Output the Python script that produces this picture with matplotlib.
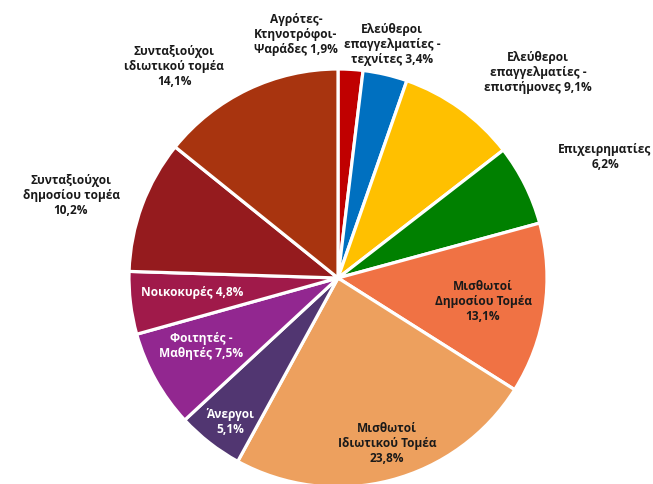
import numpy as np
import matplotlib
matplotlib.use('Agg')
import matplotlib.pyplot as plt

# Occupation shares (%), clockwise from 12 o'clock
labels = ['Αγρότες-\nΚτηνοτρόφοι-\nΨαράδες',
          'Ελεύθεροι\nεπαγγελματίες -\nτεχνίτες',
          'Ελεύθεροι\nεπαγγελματίες -\nεπιστήμονες',
          'Επιχειρηματίες',
          'Μισθωτοί\nΔημοσίου Τομέα',
          'Μισθωτοί\nΙδιωτικού Τομέα',
          'Άνεργοι',
          'Φοιτητές -\nΜαθητές',
          'Νοικοκυρές',
          'Συνταξιούχοι\nδημοσίου τομέα',
          'Συνταξιούχοι\nιδιωτικού τομέα']
values = [1.9, 3.4, 9.1, 6.2, 13.1, 23.8, 5.1, 7.5, 4.8, 10.2, 14.1]
pct_text = ['1,9%', '3,4%', '9,1%', '6,2%', '13,1%', '23,8%', '5,1%', '7,5%', '4,8%', '10,2%', '14,1%']
# whether the percentage goes on the same line as the last label line
same_line = [True, True, True, False, False, False, False, True, True, False, False]

colors = ['#C00000', '#0070C0', '#FFC000', '#008000', '#F07244', '#EDA05E',
          '#513671', '#922790', '#A01A4A', '#951B1E', '#A8340F']
text_colors = ['#1a1a1a'] * 6 + ['white', 'white', 'white'] + ['#1a1a1a'] * 2

# label placement relative to wedge middle: radius factor and angle shift (deg)
label_dist = [1.185, 1.15, 1.377, 1.405, 0.702, 0.819, 0.857, 0.730, 0.701, 1.338, 1.286]
label_shift = [13.2, 0.0, -8.3, -1.9, -0.1, 2.1, 0.8, -3.1, -1.8, 3.0, 12.0]

fig = plt.figure(figsize=(6.53, 4.85), dpi=100)
cx, cy, r = 338, 485 - 279, 209
ax = fig.add_axes([(cx - r) / 653, (cy - r) / 485, 2 * r / 653, 2 * r / 485])

wedges, _ = ax.pie(values, colors=colors, startangle=90, counterclock=False,
                   radius=1, wedgeprops=dict(edgecolor='white', linewidth=2.3))
ax.set_xlim(-1, 1)
ax.set_ylim(-1, 1)
ax.set_aspect('equal')
ax.axis('off')

for i, w in enumerate(wedges):
    mid = np.deg2rad((w.theta1 + w.theta2) / 2 + label_shift[i])
    x = label_dist[i] * np.cos(mid)
    y = label_dist[i] * np.sin(mid)
    sep = ' ' if same_line[i] else '\n'
    ax.text(x, y, labels[i] + sep + pct_text[i], ha='center', va='center',
            fontsize=8.6, fontweight='bold', color=text_colors[i],
            family=['Open Sans', 'DejaVu Sans'], linespacing=1.2)

fig.savefig('out.png', dpi=100)
